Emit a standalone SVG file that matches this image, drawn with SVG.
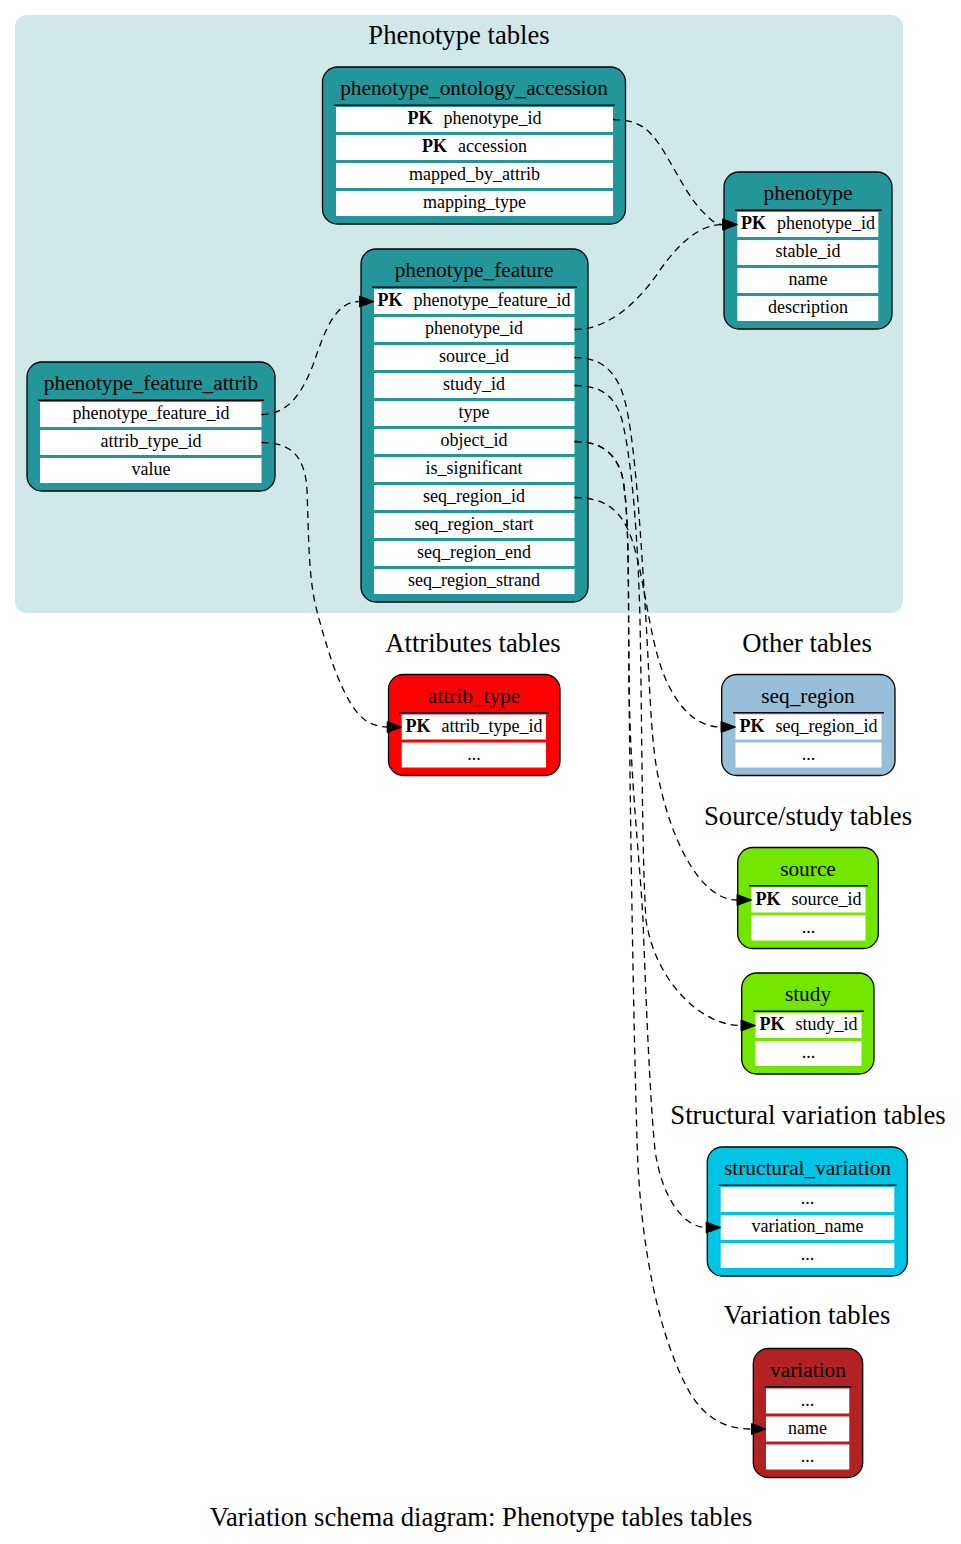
<svg xmlns="http://www.w3.org/2000/svg" width="961" height="1544" viewBox="0 0 961 1544">
  <defs>
    <style>
      text { font-family: "Liberation Serif", "Times New Roman", serif; fill: #000; }
      .cluster-label { font-size: 26.67px; text-anchor: middle; }
      .title { font-size: 21.33px; text-anchor: middle; }
      .field { font-size: 18px; text-anchor: middle; }
      .pk { font-weight: bold; }
      .box { stroke: #000; stroke-width: 1.3; }
      .teal { fill: #22969a; }
      .red { fill: #ff0000; }
      .steel { fill: #97bfda; }
      .green { fill: #72e600; }
      .cyan { fill: #00c4e4; }
      .brick { fill: #b22222; }
      .hdr { stroke: #000; stroke-width: 1.5; }
      .row { fill: #ffffff; }
      .edge { fill: none; stroke: #000; stroke-width: 1.3; stroke-dasharray: 7 5; marker-end: url(#arrow); }
    </style>
    <marker id="arrow" markerUnits="userSpaceOnUse" markerWidth="15" markerHeight="11" refX="0" refY="5.5" orient="auto" overflow="visible">
      <path d="M0,0 L14.5,5.5 L0,11 Z" fill="#000" stroke="#000" stroke-width="1"/>
    </marker>
  </defs>

  <rect width="961" height="1544" fill="#ffffff"/>

  <!-- Phenotype cluster background -->
  <g id="cluster_phenotype">
    <rect x="15" y="15" width="888" height="598" rx="12" fill="#d1e8ea"/>
    <text class="cluster-label" x="459" y="44">Phenotype tables</text>
  </g>

  <!-- Other cluster labels -->
  <g id="cluster_labels">
    <text class="cluster-label" x="473" y="652">Attributes tables</text>
    <text class="cluster-label" x="807" y="652">Other tables</text>
    <text class="cluster-label" x="808" y="825">Source/study tables</text>
    <text class="cluster-label" x="808" y="1124">Structural variation tables</text>
    <text class="cluster-label" x="807" y="1324">Variation tables</text>
  </g>

  <!-- phenotype_ontology_accession -->
  <g id="phenotype_ontology_accession">
    <rect class="box teal" x="322.5" y="67" width="303" height="157" rx="15"/>
    <text class="title" x="474" y="95">phenotype_ontology_accession</text>
    <line class="hdr" x1="334" y1="105.3" x2="615" y2="105.3"/>
    <rect class="row" x="336" y="107" width="277" height="25"/>
    <rect class="row" x="336" y="135" width="277" height="25"/>
    <rect class="row" x="336" y="163" width="277" height="25"/>
    <rect class="row" x="336" y="191" width="277" height="25"/>
    <text class="field" x="474.5" y="124"><tspan class="pk">PK</tspan><tspan dx="11">phenotype_id</tspan></text>
    <text class="field" x="474.5" y="152"><tspan class="pk">PK</tspan><tspan dx="11">accession</tspan></text>
    <text class="field" x="474.5" y="180">mapped_by_attrib</text>
    <text class="field" x="474.5" y="208">mapping_type</text>
  </g>

  <!-- phenotype -->
  <g id="phenotype">
    <rect class="box teal" x="724" y="172" width="168" height="157" rx="15"/>
    <text class="title" x="808" y="200">phenotype</text>
    <line class="hdr" x1="735" y1="210.3" x2="881.7" y2="210.3"/>
    <rect class="row" x="737.3" y="212" width="141" height="25"/>
    <rect class="row" x="737.3" y="240" width="141" height="25"/>
    <rect class="row" x="737.3" y="268" width="141" height="25"/>
    <rect class="row" x="737.3" y="296" width="141" height="25"/>
    <text class="field" x="808" y="229"><tspan class="pk">PK</tspan><tspan dx="11">phenotype_id</tspan></text>
    <text class="field" x="808" y="257">stable_id</text>
    <text class="field" x="808" y="285">name</text>
    <text class="field" x="808" y="313">description</text>
  </g>

  <!-- phenotype_feature -->
  <g id="phenotype_feature">
    <rect class="box teal" x="361" y="249" width="227" height="353" rx="15"/>
    <text class="title" x="474" y="277">phenotype_feature</text>
    <line class="hdr" x1="372" y1="287.3" x2="577" y2="287.3"/>
    <rect class="row" x="374" y="289" width="200.5" height="25"/>
    <rect class="row" x="374" y="317" width="200.5" height="25"/>
    <rect class="row" x="374" y="345" width="200.5" height="25"/>
    <rect class="row" x="374" y="373" width="200.5" height="25"/>
    <rect class="row" x="374" y="401" width="200.5" height="25"/>
    <rect class="row" x="374" y="429" width="200.5" height="25"/>
    <rect class="row" x="374" y="457" width="200.5" height="25"/>
    <rect class="row" x="374" y="485" width="200.5" height="25"/>
    <rect class="row" x="374" y="513" width="200.5" height="25"/>
    <rect class="row" x="374" y="541" width="200.5" height="25"/>
    <rect class="row" x="374" y="569" width="200.5" height="25"/>
    <text class="field" x="474" y="306"><tspan class="pk">PK</tspan><tspan dx="11">phenotype_feature_id</tspan></text>
    <text class="field" x="474" y="334">phenotype_id</text>
    <text class="field" x="474" y="362">source_id</text>
    <text class="field" x="474" y="390">study_id</text>
    <text class="field" x="474" y="418">type</text>
    <text class="field" x="474" y="446">object_id</text>
    <text class="field" x="474" y="474">is_significant</text>
    <text class="field" x="474" y="502">seq_region_id</text>
    <text class="field" x="474" y="530">seq_region_start</text>
    <text class="field" x="474" y="558">seq_region_end</text>
    <text class="field" x="474" y="586">seq_region_strand</text>
  </g>

  <!-- phenotype_feature_attrib -->
  <g id="phenotype_feature_attrib">
    <rect class="box teal" x="27" y="362" width="248" height="129" rx="15"/>
    <text class="title" x="151" y="390">phenotype_feature_attrib</text>
    <line class="hdr" x1="38" y1="400.3" x2="264" y2="400.3"/>
    <rect class="row" x="40" y="402" width="221.5" height="25"/>
    <rect class="row" x="40" y="430" width="221.5" height="25"/>
    <rect class="row" x="40" y="458" width="221.5" height="25"/>
    <text class="field" x="151" y="419">phenotype_feature_id</text>
    <text class="field" x="151" y="447">attrib_type_id</text>
    <text class="field" x="151" y="475">value</text>
  </g>

  <!-- attrib_type -->
  <g id="attrib_type">
    <rect class="box red" x="388.5" y="674.5" width="171.5" height="101" rx="15"/>
    <text class="title" x="474" y="702.5">attrib_type</text>
    <line class="hdr" x1="399" y1="712.8" x2="549" y2="712.8"/>
    <rect class="row" x="401.7" y="714.5" width="144.3" height="25"/>
    <rect class="row" x="401.7" y="742.5" width="144.3" height="25"/>
    <text class="field" x="474" y="731.5"><tspan class="pk">PK</tspan><tspan dx="11">attrib_type_id</tspan></text>
    <text class="field" x="474" y="759.5">...</text>
  </g>

  <!-- seq_region -->
  <g id="seq_region">
    <rect class="box steel" x="721.7" y="674.5" width="173.3" height="101" rx="15"/>
    <text class="title" x="808" y="702.5">seq_region</text>
    <line class="hdr" x1="733" y1="712.8" x2="884" y2="712.8"/>
    <rect class="row" x="735.5" y="714.5" width="146" height="25"/>
    <rect class="row" x="735.5" y="742.5" width="146" height="25"/>
    <text class="field" x="808.5" y="731.5"><tspan class="pk">PK</tspan><tspan dx="11">seq_region_id</tspan></text>
    <text class="field" x="808.5" y="759.5">...</text>
  </g>

  <!-- source -->
  <g id="source">
    <rect class="box green" x="737.7" y="847.5" width="140.6" height="101" rx="15"/>
    <text class="title" x="808" y="875.5">source</text>
    <line class="hdr" x1="749" y1="885.8" x2="868" y2="885.8"/>
    <rect class="row" x="751.5" y="887.5" width="114" height="25"/>
    <rect class="row" x="751.5" y="915.5" width="114" height="25"/>
    <text class="field" x="808.5" y="904.5"><tspan class="pk">PK</tspan><tspan dx="11">source_id</tspan></text>
    <text class="field" x="808.5" y="932.5">...</text>
  </g>

  <!-- study -->
  <g id="study">
    <rect class="box green" x="741.7" y="973" width="132.3" height="101" rx="15"/>
    <text class="title" x="808" y="1001">study</text>
    <line class="hdr" x1="753" y1="1011.3" x2="864" y2="1011.3"/>
    <rect class="row" x="755.5" y="1013" width="106" height="25"/>
    <rect class="row" x="755.5" y="1041" width="106" height="25"/>
    <text class="field" x="808.5" y="1030"><tspan class="pk">PK</tspan><tspan dx="11">study_id</tspan></text>
    <text class="field" x="808.5" y="1058">...</text>
  </g>

  <!-- structural_variation -->
  <g id="structural_variation">
    <rect class="box cyan" x="707.3" y="1147" width="200" height="129" rx="15"/>
    <text class="title" x="807.5" y="1175">structural_variation</text>
    <line class="hdr" x1="718.5" y1="1185.3" x2="896.5" y2="1185.3"/>
    <rect class="row" x="720.7" y="1187" width="173.6" height="25"/>
    <rect class="row" x="720.7" y="1215" width="173.6" height="25"/>
    <rect class="row" x="720.7" y="1243" width="173.6" height="25"/>
    <text class="field" x="807.5" y="1204">...</text>
    <text class="field" x="807.5" y="1232">variation_name</text>
    <text class="field" x="807.5" y="1260">...</text>
  </g>

  <!-- variation -->
  <g id="variation">
    <rect class="box brick" x="753.3" y="1348.5" width="109.4" height="129" rx="15"/>
    <text class="title" x="808" y="1376.5">variation</text>
    <line class="hdr" x1="764.5" y1="1386.8" x2="851.5" y2="1386.8"/>
    <rect class="row" x="766" y="1388.5" width="83.3" height="25"/>
    <rect class="row" x="766" y="1416.5" width="83.3" height="25"/>
    <rect class="row" x="766" y="1444.5" width="83.3" height="25"/>
    <text class="field" x="807.5" y="1405.5">...</text>
    <text class="field" x="807.5" y="1433.5">name</text>
    <text class="field" x="807.5" y="1461.5">...</text>
  </g>

  <!-- foreign-key connectors -->
  <g id="edges">
    <path class="edge" d="M613,119.5 C640,119.5 650,130 663,150 C678,175 690,200 705,214 C712,221 716,224.5 722.8,224.5"/>
    <path class="edge" d="M574.5,329.5 C610,329.5 640,300 660,270 C680,242 700,224.5 722.8,224.5"/>
    <path class="edge" d="M261.5,414.5 C290,414.5 303,390 313,365 C325,330 335,301.5 359.5,301.5"/>
    <path class="edge" d="M261.5,442.5 C290,442.5 305,455 307,490 C309,540 308,580 318,615 C330,660 345,705 365,720 C372,725 380,727 387.2,727"/>
    <path class="edge" d="M574.5,497.5 C605,497.5 622,510 632,540 C645,580 648,630 662,670 C675,705 695,727 721,727"/>
    <path class="edge" d="M574.5,357.5 C605,357.5 620,375 627,410 C636,455 641,540 646,620 C650,690 651,750 660,785 C672,840 700,900 737,900"/>
    <path class="edge" d="M574.5,385.5 C600,385.5 615,395 622,420 C632,460 638,540 640,620 C642,720 642,860 646,920 C655,980 700,1025.5 741,1025.5"/>
    <path class="edge" d="M574.5,441.5 C600,441.5 615,452 622,475 C630,510 628,600 629,680 C630,780 640,860 643,920 C646,1000 650,1100 655,1150 C662,1200 685,1227.5 706.2,1227.5"/>
    <path class="edge" d="M574.5,441.5 C600,441.5 615,452 622,475 C630,510 628,600 629,680 C630,800 633,1000 637,1140 C640,1250 660,1340 690,1393 C705,1418 725,1429 751.5,1429"/>
  </g>

  <text class="cluster-label" x="481" y="1526">Variation schema diagram: Phenotype tables tables</text>
</svg>
